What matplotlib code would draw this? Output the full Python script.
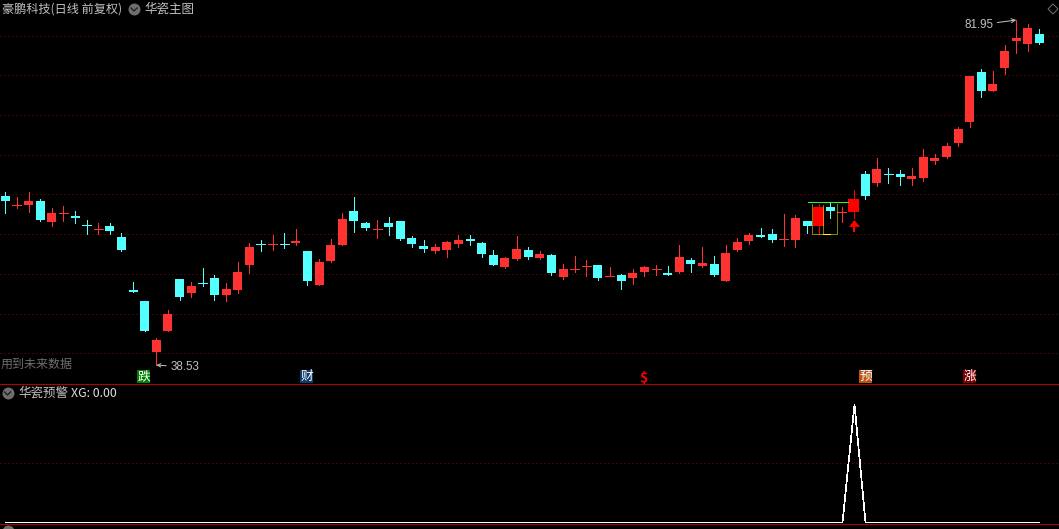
import numpy as np
import matplotlib
matplotlib.use("Agg")
import matplotlib.pyplot as plt
from matplotlib.patches import Rectangle, Polygon

plt.rcParams['font.family'] = ['Noto Sans CJK SC', 'DejaVu Sans']

# top/bottom of each candle body, high and low
highs = [60.31,59.68,60.31,59.43,58.29,58.55,57.92,56.78,56.41,56.41,55.15,48.98,46.59,41.93,45.45,49.36,48.98,50.74,49.86,48.85,
         51.50,53.89,54.27,54.90,55.15,55.65,52.88,51.87,54.39,57.67,59.68,56.53,56.78,57.16,56.66,54.77,54.27,53.76,54.14,54.90,
         54.90,54.01,53.01,52.13,54.77,53.38,52.88,52.50,51.24,52.25,51.75,51.12,50.87,49.99,50.62,50.99,51.12,50.99,53.64,52.00,
         53.38,52.25,53.64,54.52,55.15,55.78,55.65,57.54,57.41,56.65,58.79,58.92,58.42,60.56,62.95,64.58,63.33,63.07,63.33,65.72,
         65.09,66.47,68.49,74.90,75.79,75.53,78.81,81.95,81.45,80.82]
tops = [59.81,58.67,59.18,59.18,57.67,57.67,57.29,56.20,55.70,56.03,54.64,47.97,46.59,41.68,44.95,49.36,48.47,48.98,49.48,48.10,
        50.24,53.38,53.80,53.80,53.80,54.14,52.88,51.50,53.64,56.91,57.92,56.41,55.70,56.41,56.66,54.52,53.51,53.38,54.01,54.27,
        54.39,53.89,52.38,52.00,53.13,53.01,52.50,52.38,50.62,50.62,51.12,51.12,49.86,49.86,50.11,50.87,50.62,50.11,52.13,51.75,
        51.37,51.24,52.63,54.01,54.90,54.90,55.02,54.39,57.03,56.65,58.42,58.42,57.82,59.42,62.57,63.20,62.70,62.57,62.32,64.71,
        64.58,66.10,68.24,74.90,75.41,73.90,78.05,79.69,80.95,80.19]
bottoms = [59.18,58.55,58.67,56.78,56.53,57.54,57.04,56.07,55.57,55.40,53.01,47.72,42.81,40.17,42.81,47.09,47.59,48.85,47.34,47.34,
           47.97,51.12,53.68,53.68,53.68,53.89,49.10,48.60,51.62,53.64,56.66,55.78,55.57,55.90,54.39,53.76,53.13,52.88,53.01,53.76,
           54.14,52.50,51.12,50.87,51.87,52.13,52.00,50.11,49.61,50.49,50.99,49.48,49.73,49.10,49.48,50.24,50.49,49.86,50.24,51.24,
           50.99,49.86,49.10,53.01,54.14,54.64,54.27,54.27,54.26,56.02,56.02,57.91,57.70,57.79,59.80,61.44,62.57,62.19,61.94,62.07,
           64.21,64.71,66.47,69.12,73.02,73.02,75.91,79.31,78.93,79.06]
lows = [57.71,58.29,57.79,56.66,56.03,56.66,56.41,55.02,55.02,55.02,52.88,47.72,42.81,38.53,42.81,46.71,47.09,48.47,46.71,46.59,
        47.59,50.11,52.88,53.01,53.26,53.64,48.60,48.60,51.50,53.64,55.27,55.53,54.52,54.90,54.27,53.38,52.75,52.63,52.13,53.38,
        53.64,52.13,51.12,50.74,51.75,51.87,51.87,49.86,49.36,50.24,49.73,49.23,49.73,48.10,48.73,49.73,49.86,49.86,50.11,50.24,
        50.87,49.73,49.10,52.88,53.76,54.64,54.01,53.51,53.38,55.14,55.02,57.03,56.53,57.03,59.42,61.06,61.44,61.19,61.19,61.69,
        63.83,64.58,66.10,68.49,72.26,73.02,75.16,77.80,78.05,78.93]
is_up = [0,1,1,0,1,1,0,0,1,0,0,0,0,1,1,0,1,0,0,1,
         1,1,0,1,0,1,0,1,1,1,0,0,1,0,0,0,0,1,1,1,
         0,0,0,1,1,0,1,0,1,1,1,0,1,0,1,1,1,0,1,0,
         1,0,1,1,1,0,0,1,1,0,1,0,1,1,0,1,0,0,1,1,
         1,1,1,1,0,1,1,1,1,0]
signal_candles = [70, 73]
xg = [0]*90
xg[73] = 1
grid_prices = [40,45,50,55,60,65,70,75,80]

W, H = 1059, 529
RED, CYAN, SIGNAL = '#ff3232', '#54ffff', '#ff0000'
GRID, SEP, GREY = '#8c0000', '#b40000', '#c0c0c0'
PX = 0.72

fig = plt.figure(figsize=(W/100, H/100), dpi=100, facecolor='black')
def axes_px(top, bottom):
    return fig.add_axes([0, 1-bottom/H, 1, (bottom-top)/H], facecolor='black')

ax = axes_px(0, 384.5)
ax2 = axes_px(384.5, 529)
XLIM = (-0.456, 90.68)
ax.set_xlim(*XLIM); ax.set_ylim(84.47 - 0.12585*384.5, 84.47)
ax2.set_xlim(*XLIM); ax2.set_ylim(-0.0566, 1.1606)
for a in (ax, ax2):
    a.axis('off')

for p in grid_prices:
    ax.axhline(p, color=GRID, lw=PX, ls=(0, (1, 3)), zorder=1)
ax2.axhline(0.5, color=GRID, lw=PX, ls=(0, (1, 3)), zorder=1)

x = np.arange(len(highs))
for i in x:
    sig = i in signal_candles
    col = SIGNAL if sig else (RED if is_up[i] else CYAN)
    w = 11/11.62 if sig else 9/11.62
    ax.vlines(i, lows[i], highs[i], color=col, lw=PX, antialiased=False, zorder=2)
    if tops[i] - bottoms[i] < 0.3:
        ax.hlines((tops[i]+bottoms[i])/2, i-w/2, i+w/2, color=col, lw=1.4 if tops[i]-bottoms[i] > 0.2 else PX,
                  antialiased=False, zorder=3)
    else:
        ax.add_patch(Rectangle((i-w/2, bottoms[i]), w, tops[i]-bottoms[i], fc=col, ec='none', antialiased=False, zorder=3))

# signal box, green level, arrow
ax.plot([69.08, 72.5], [59.05, 59.05], color='#22ff22', lw=PX, antialiased=False, zorder=4)
dot = dict(color='#ffff00', lw=PX, ls=(0, (1, 1)), zorder=4)
ax.plot([69.42, 69.42, 71.57, 71.57], [58.8, 55.02, 55.02, 58.8], **dot)
ax.plot([70.4, 70.4], [55.02, 58.8], **dot)
ax.plot([70.4, 70.95], [55.02, 55.02], color='#ffff00', lw=PX, antialiased=False, zorder=4)
ax.plot([73], [56.43], marker=[(-1, -0.6), (0, 0.6), (1, -0.6)], ms=8.0, color='#ff0000', mec='none', zorder=4)
ax.vlines(73, 55.27, 56.6, color='#ff0000', lw=1.4, antialiased=False, zorder=4)

# extreme labels
ax.annotate('38.53', xy=(13, 38.53), xytext=(14, -2), textcoords='offset pixels', color=GREY, fontsize=8.4,
            ha='left', va='center', family='Liberation Sans',
            arrowprops=dict(arrowstyle='->', color=GREY, lw=PX, shrinkA=1, shrinkB=0, mutation_scale=6))
ax.annotate('81.95', xy=(87, 81.95), xytext=(-23, -5), textcoords='offset pixels', color=GREY, fontsize=8.4,
            ha='right', va='center', family='Liberation Sans',
            arrowprops=dict(arrowstyle='->', color=GREY, lw=PX, shrinkA=1, shrinkB=0, mutation_scale=7))

# lower panel
ax2.plot(x, xg, color='white', lw=0.5, antialiased=False, snap=True, zorder=3)

# figure-level items, given in pixels
def ftext(px, py, s, color=GREY, size=9.0, ha='left', **kw):
    return fig.text(px/W, 1-py/H, s, color=color, fontsize=size, ha=ha, va='center', **kw)
def fline(x0, x1, py, color, lw=PX):
    fig.add_artist(plt.Line2D([x0/W, x1/W], [1-py/H, 1-py/H], color=color, lw=lw, antialiased=False))
def icon(px, py):
    fig.add_artist(plt.Line2D([px/W], [1-py/H], marker='o', ms=8.6, color='#6e6e6e', mec='none'))
    fig.add_artist(plt.Line2D([(px-3)/W, px/W, (px+3)/W], [1-(py-1)/H, 1-(py+2)/H, 1-(py-1)/H], color='#202020', lw=1.0))
def tag(px, s, color, fg='white'):
    fig.add_artist(Rectangle(((px-6.5)/W, 1-383/H), 13/W, 13/H, transform=fig.transFigure, fc=color, ec='none'))
    ftext(px, 376.3, s, color=fg, size=9.2, ha='center')

fline(0, W, 384, SEP)
fline(0, W, 524.3, SEP)
ftext(2, 9, '豪鹏科技(日线 前复权)', size=8.75)
icon(134, 9)
ftext(144, 9, '华瓷主图', size=9.0)
ftext(1, 364.5, '用到未来数据', color='#6e6e6e', size=8.65)
icon(7.5, 393)
ftext(18, 393.5, '华瓷预警', size=9.0)
ftext(71, 393.5, 'XG: 0.00', color='#e0e0e0', size=8.9)
tag(143.5, '跌', '#007f00')
tag(306.5, '财', '#0b3a6e')
tag(865.5, '预', '#b8540f')
tag(969.5, '涨', '#7d0000')
ftext(643, 377.5, '$', color='#ff0000', size=10, ha='center', fontweight='bold')
fig.add_artist(Polygon([[1053/W, 1-4/H], [1058/W, 1-9/H], [1053/W, 1-14/H], [1048/W, 1-9/H]],
                       closed=True, fc='none', ec='#6e6e6e', lw=PX, transform=fig.transFigure))
# the next panel's header, cut off by the bottom edge
icon(7.5, 531)
ftext(19, 534, 'VOL: 11.35 11.29', color='#bdbdbd', size=9.0)
ftext(107, 534, 'DIF: 0.04', color='#ffffff', size=9.0)
ftext(160, 534, 'DEA: 5.55', color='#ffff33', size=9.0)
ftext(220, 534, 'MACD: 0.00', color='#e030e0', size=9.0)

fig.savefig('out.png', dpi=100, facecolor='black')
